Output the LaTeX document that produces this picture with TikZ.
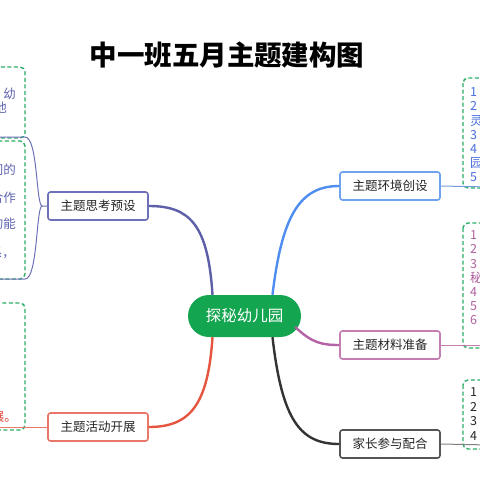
\documentclass[tikz,border=0pt]{standalone}
\usepackage{fontspec}
\newfontfamily\cjk{Noto Sans CJK SC}
\definecolor{cgreen}{HTML}{14A550}
\definecolor{dgreen}{HTML}{2BAE66}
\definecolor{slate}{HTML}{6E71B8}
\definecolor{slatel}{HTML}{5D5FA8}
\definecolor{redb}{HTML}{E8776A}
\definecolor{redl}{HTML}{E5553F}
\definecolor{blueb}{HTML}{6FA3F0}
\definecolor{bluel}{HTML}{4F8EF0}
\definecolor{pinkb}{HTML}{C47EB4}
\definecolor{pinkl}{HTML}{B461A5}
\definecolor{darkb}{HTML}{555555}
\definecolor{darkl}{HTML}{333333}
\definecolor{bluet}{HTML}{4A6FDE}
\definecolor{pinkt}{HTML}{B0619F}
\definecolor{slatet}{HTML}{5E63B0}
\definecolor{redt}{HTML}{E0443A}
\tikzset{
  topic/.style={draw=#1, line width=1.6pt, fill=white, rounded corners=2.5pt,
    minimum width=100pt, minimum height=28pt, inner sep=0pt,
    font=\cjk\fontsize{12.5}{14}\selectfont, text=black!85},
  mainline/.style={draw=#1, line width=2.4pt},
  subline/.style={draw=#1, line width=1pt},
  leafbox/.style={draw=dgreen, dashed, dash pattern=on 4pt off 2.5pt, line width=1.4pt, rounded corners=5pt},
  leaf/.style={font=\cjk\fontsize{12.5}{14}\selectfont, inner sep=0pt, text=#1},
}
\begin{document}
\begin{tikzpicture}[x=1pt,y=-1pt]
\useasboundingbox (0,0) rectangle (480,480);
\fill[white] (0,0) rectangle (480,480);
\clip (0,0) rectangle (480,480);

% title
\node[font=\cjk\bfseries\fontsize{27.5}{31}\selectfont, inner sep=0pt] (title) at (227,55) {中一班五月主题建构图};

% central node
\node[fill=cgreen, rounded corners=21pt, minimum width=113pt, minimum height=42pt, inner sep=0pt,
  text=white, font=\cjk\fontsize{15.5}{18}\selectfont] (c) at (244.5,316) {探秘幼儿园};

% topics
\node[topic=slate] (t1) at (98,206) {主题思考预设};
\node[topic=redb] (t2) at (98,427) {主题活动开展};
\node[topic=blueb] (t3) at (390,186) {主题环境创设};
\node[topic=pinkb] (t4) at (390,345) {主题材料准备};
\node[topic=darkb] (t5) at (390,444) {家长参与配合};

% main connectors
\draw[mainline=slatel] ([xshift=-32pt]c.north) .. controls (208,225) and (190,206) .. (t1.east);
\draw[mainline=redl] ([xshift=-32pt]c.south) .. controls (208,405) and (190,427) .. (t2.east);
\draw[mainline=bluel] ([xshift=28pt]c.north) .. controls (282,215) and (300,186) .. (t3.west);
\draw[mainline=pinkl] ([xshift=-6pt,yshift=-11pt]c.east) .. controls (312,343) and (322,345) .. (t4.west);
\draw[mainline=darkl] ([xshift=28pt]c.south) .. controls (282,420) and (300,444) .. (t5.west);

% leaf boxes
\draw[leafbox] (-20,67) rectangle (25,138);
\draw[leafbox] (-20,141) rectangle (25,279);
\draw[leafbox] (-20,303) rectangle (25,430);
\draw[leafbox] (463,78) rectangle (510,188);
\draw[leafbox] (463,223) rectangle (510,348);
\draw[leafbox] (463,380) rectangle (510,449);

% sub connectors
\coordinate (l1) at (25,137);
\coordinate (l1e) at (-10,137);
\coordinate (l2) at (25,279);
\coordinate (l2e) at (-10,279);
\coordinate (l3e) at (-10,427);
\coordinate (r1e) at (490,187);
\coordinate (r2e) at (490,345);
\coordinate (r3e) at (490,445);
\draw[subline=slate] (t1.west) -- ++(-5,0) coordinate (k1) .. controls (36,206) and (38,137) .. (l1) -- (l1e);
\draw[subline=slate] (k1) .. controls (36,206) and (38,279) .. (l2) -- (l2e);
\draw[subline=redb] (t2.west) -- (l3e);
\draw[subline=blueb!80!gray] (t3.east) -- (r1e);
\draw[subline=pinkb] (t4.east) -- (r2e);
\draw[subline=gray] (t5.east) -- (r3e);

% leaf texts (cut by the page edge, as in the reference)
\node[leaf=slatet, anchor=east] (a1) at (16,94) {幼};
\node[leaf=slatet, anchor=east] (a2) at (7,108) {他};
\node[leaf=slatet, anchor=east] (b1) at (16,170) {间的};
\node[leaf=slatet, anchor=east] (b2) at (16,198) {合作};
\node[leaf=slatet, anchor=east] (b3) at (16,224) {的能};
\node[leaf=slatet, anchor=east] (b4) at (15,253) {系，};
\node[leaf=redt, anchor=east] (d1) at (17,417) {展。};

\foreach \t [count=\i] in {1,2,灵,3,4,园,5}
  \node[leaf=bluet, anchor=west] at (470,{78+14.2*\i}) {\t};
\foreach \t [count=\i] in {1,2,3,秘,4,5,6}
  \node[leaf=pinkt, anchor=west] at (470,{221+14.2*\i}) {\t};
\foreach \t [count=\i] in {1,2,3,4}
  \node[leaf=black!85, anchor=west] at (470,{378+14.5*\i}) {\t};
\end{tikzpicture}
\end{document}
